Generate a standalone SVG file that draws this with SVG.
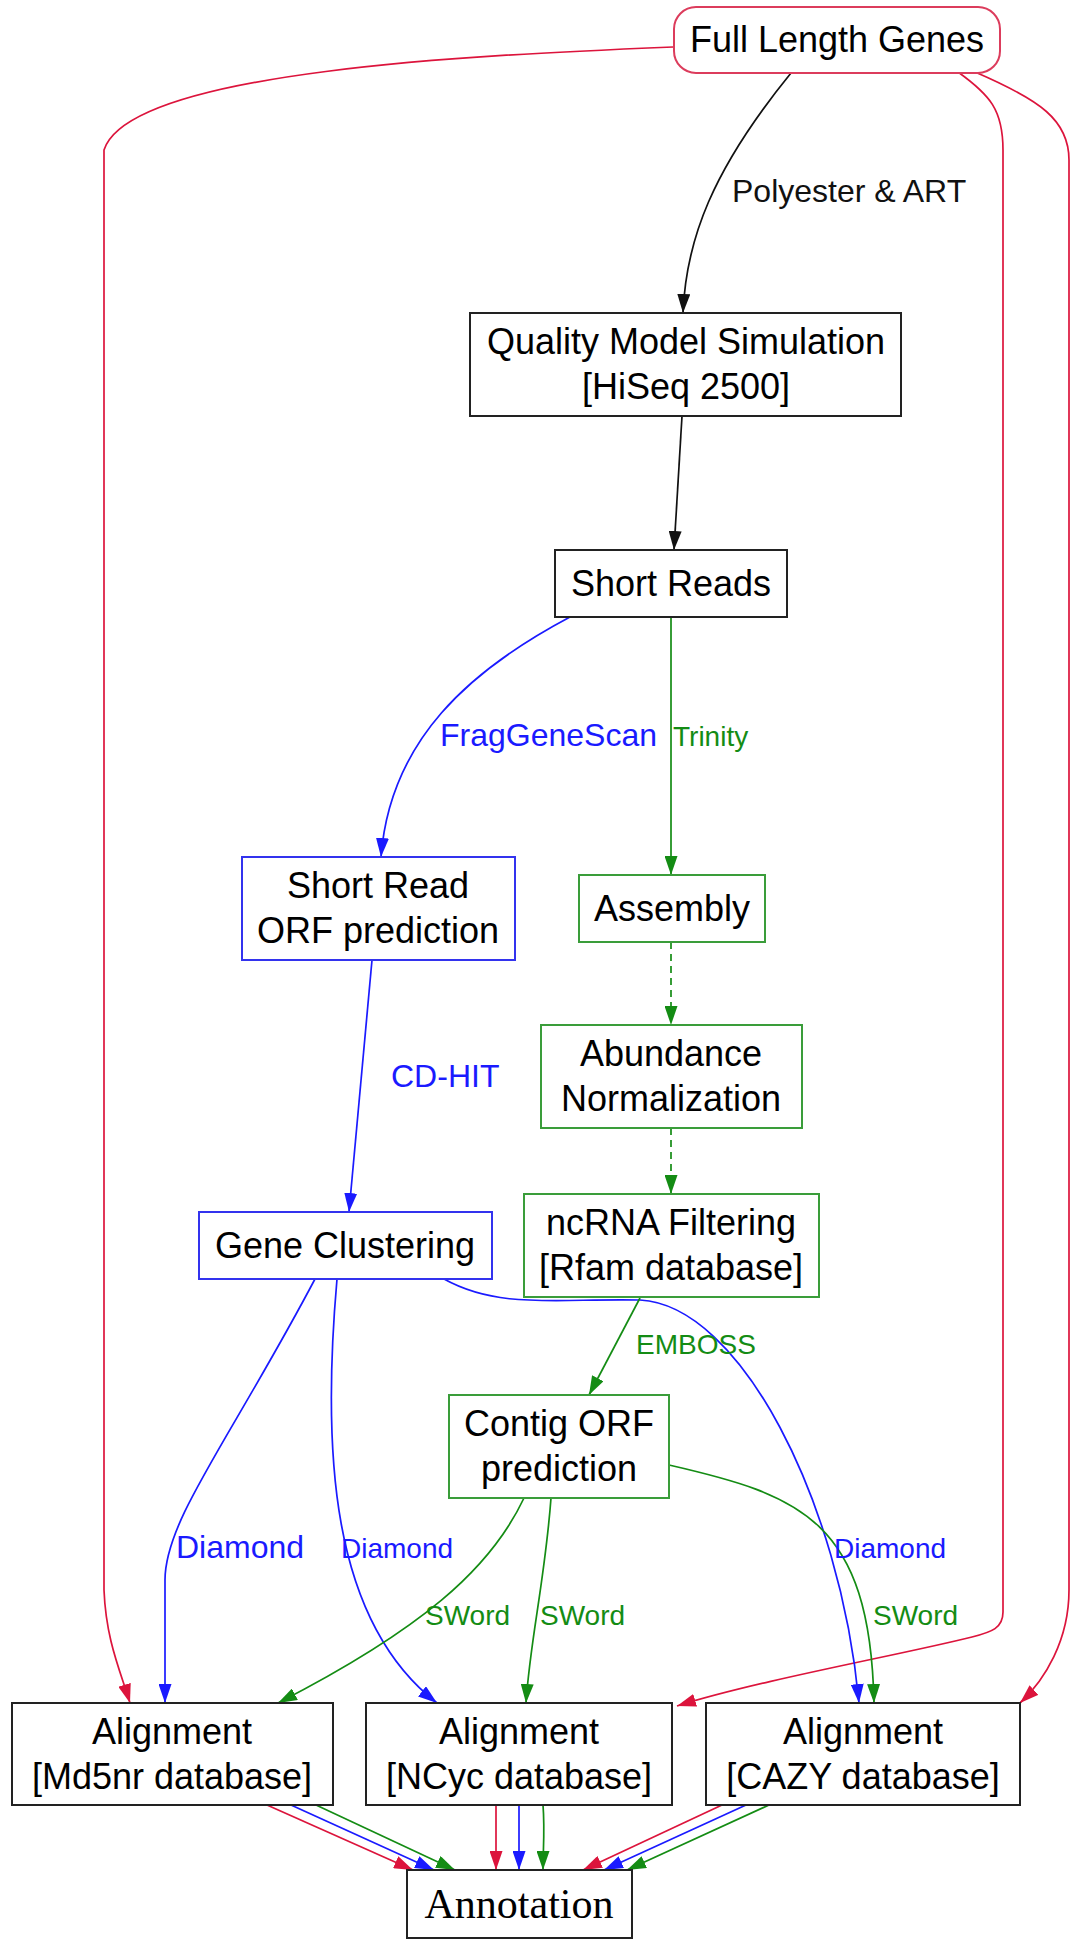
<svg xmlns="http://www.w3.org/2000/svg" width="1088" height="1955" viewBox="0 0 1088 1955">
<style>
  .n rect { fill: #ffffff; stroke-width: 2; }
  .k rect { stroke: #222222; }
  .r rect { stroke: #dc3c5c; }
  .b rect { stroke: #3333ee; }
  .g rect { stroke: #3a9d3a; }
  .t { font-family: "Liberation Sans", Arial, sans-serif; font-size: 36px; text-anchor: middle; fill: #000000; }
  .ann { font-family: "Liberation Serif", "Times New Roman", serif; font-size: 42px; text-anchor: middle; fill: #000000; }
  #edges path { fill: none; stroke-width: 1.7; }
  .ek { stroke: #111111; }
  .er { stroke: #dc143c; }
  .eb { stroke: #1a1aff; }
  .eg { stroke: #148c14; }
  .dash { stroke-dasharray: 7 5; }
  .lb { font-family: "Liberation Sans", Arial, sans-serif; font-size: 32px; }
  .ls { font-family: "Liberation Sans", Arial, sans-serif; font-size: 28px; }
  .lk { fill: #111111; }
  .lbl { fill: #1a1aff; }
  .lgr { fill: #148c14; }
</style>
<defs>
  <marker id="ak" viewBox="0 0 19 13" refX="19" refY="6.5" markerWidth="19" markerHeight="13" orient="auto" markerUnits="userSpaceOnUse"><path d="M0,0 L19,6.5 L0,13 z" fill="#111111"/></marker>
  <marker id="ar" viewBox="0 0 19 13" refX="19" refY="6.5" markerWidth="19" markerHeight="13" orient="auto" markerUnits="userSpaceOnUse"><path d="M0,0 L19,6.5 L0,13 z" fill="#dc143c"/></marker>
  <marker id="ab" viewBox="0 0 19 13" refX="19" refY="6.5" markerWidth="19" markerHeight="13" orient="auto" markerUnits="userSpaceOnUse"><path d="M0,0 L19,6.5 L0,13 z" fill="#1a1aff"/></marker>
  <marker id="ag" viewBox="0 0 19 13" refX="19" refY="6.5" markerWidth="19" markerHeight="13" orient="auto" markerUnits="userSpaceOnUse"><path d="M0,0 L19,6.5 L0,13 z" fill="#148c14"/></marker>
</defs>

<g id="edges">
  <!-- black -->
  <path class="ek" d="M791,73 C712,170 686,240 683,313" marker-end="url(#ak)"/>
  <path class="ek" d="M682,416 L674,550" marker-end="url(#ak)"/>
  <!-- red -->
  <path class="er" d="M673,47 C480,55 130,70 104,150 L104,1590 C106,1640 120,1670 130,1703" marker-end="url(#ar)"/>
  <path class="er" d="M958,72 C990,95 1003,110 1003,150 L1003,1612 C1003,1628 992,1632 972,1637 C900,1655 760,1680 677,1706" marker-end="url(#ar)"/>
  <path class="er" d="M975,72 C1040,100 1069,120 1069,160 L1069,1590 C1069,1640 1045,1680 1020,1703" marker-end="url(#ar)"/>
  <!-- blue -->
  <path class="eb" d="M570,617 C470,670 390,740 381,857" marker-end="url(#ab)"/>
  <path class="eb" d="M372,960 L349,1212" marker-end="url(#ab)"/>
  <path class="eb" d="M315,1279 C230,1440 165,1520 165,1580 L165,1703" marker-end="url(#ab)"/>
  <path class="eb" d="M337,1279 C322,1450 330,1620 437,1703" marker-end="url(#ab)"/>
  <path class="eb" d="M444,1279 C500,1310 560,1298 640,1300 C740,1305 840,1500 859,1703" marker-end="url(#ab)"/>
  <!-- green -->
  <path class="eg" d="M671,617 L671,875" marker-end="url(#ag)"/>
  <path class="eg dash" d="M671,942 L671,1025" marker-end="url(#ag)"/>
  <path class="eg dash" d="M671,1128 L671,1194" marker-end="url(#ag)"/>
  <path class="eg" d="M640,1298 L589,1395" marker-end="url(#ag)"/>
  <path class="eg" d="M524,1498 C490,1570 420,1630 278,1703" marker-end="url(#ag)"/>
  <path class="eg" d="M551,1498 C545,1580 530,1640 526,1703" marker-end="url(#ag)"/>
  <path class="eg" d="M669,1465 C800,1495 870,1520 874,1703" marker-end="url(#ag)"/>
  <!-- to Annotation -->
  <path class="er" d="M267,1805 L413,1870" marker-end="url(#ar)"/>
  <path class="eb" d="M291,1805 L434,1870" marker-end="url(#ab)"/>
  <path class="eg" d="M316,1805 L455,1870" marker-end="url(#ag)"/>
  <path class="er" d="M496,1805 L496,1870" marker-end="url(#ar)"/>
  <path class="eb" d="M519,1805 L519,1870" marker-end="url(#ab)"/>
  <path class="eg" d="M543,1805 C545,1830 543,1850 543,1870" marker-end="url(#ag)"/>
  <path class="er" d="M722,1805 L583,1870" marker-end="url(#ar)"/>
  <path class="eb" d="M746,1805 L604,1870" marker-end="url(#ab)"/>
  <path class="eg" d="M769,1805 L627,1870" marker-end="url(#ag)"/>
  <!-- labels -->
  <text class="lb lk" x="732" y="202">Polyester &amp; ART</text>
  <text class="lb lbl" x="440" y="746">FragGeneScan</text>
  <text class="ls lgr" x="673" y="746">Trinity</text>
  <text class="lb lbl" x="391" y="1087">CD-HIT</text>
  <text class="ls lgr" x="636" y="1354">EMBOSS</text>
  <text class="lb lbl" x="176" y="1558">Diamond</text>
  <text class="ls lbl" x="341" y="1558">Diamond</text>
  <text class="ls lbl" x="834" y="1558">Diamond</text>
  <text class="ls lgr" x="425" y="1625">SWord</text>
  <text class="ls lgr" x="540" y="1625">SWord</text>
  <text class="ls lgr" x="873" y="1625">SWord</text>
</g>

<g id="n-full-length-genes" class="n r">
  <rect x="674" y="7" width="326" height="66" rx="22" ry="22"/>
  <text class="t" x="837" y="52">Full Length Genes</text>
</g>
<g id="n-quality-model" class="n k">
  <rect x="470" y="313" width="431" height="103"/>
  <text class="t" x="686" y="354">Quality Model Simulation</text>
  <text class="t" x="686" y="399">[HiSeq 2500]</text>
</g>
<g id="n-short-reads" class="n k">
  <rect x="555" y="550" width="232" height="67"/>
  <text class="t" x="671" y="596">Short Reads</text>
</g>
<g id="n-short-read-orf" class="n b">
  <rect x="242" y="857" width="273" height="103"/>
  <text class="t" x="378" y="898">Short Read</text>
  <text class="t" x="378" y="943">ORF prediction</text>
</g>
<g id="n-assembly" class="n g">
  <rect x="579" y="875" width="186" height="67"/>
  <text class="t" x="672" y="921">Assembly</text>
</g>
<g id="n-abundance" class="n g">
  <rect x="541" y="1025" width="261" height="103"/>
  <text class="t" x="671" y="1066">Abundance</text>
  <text class="t" x="671" y="1111">Normalization</text>
</g>
<g id="n-ncrna" class="n g">
  <rect x="524" y="1194" width="295" height="103"/>
  <text class="t" x="671" y="1235">ncRNA Filtering</text>
  <text class="t" x="671" y="1280">[Rfam database]</text>
</g>
<g id="n-gene-clustering" class="n b">
  <rect x="199" y="1212" width="293" height="67"/>
  <text class="t" x="345" y="1258">Gene Clustering</text>
</g>
<g id="n-contig-orf" class="n g">
  <rect x="449" y="1395" width="220" height="103"/>
  <text class="t" x="559" y="1436">Contig ORF</text>
  <text class="t" x="559" y="1481">prediction</text>
</g>
<g id="n-align-md5nr" class="n k">
  <rect x="12" y="1703" width="321" height="102"/>
  <text class="t" x="172" y="1744">Alignment</text>
  <text class="t" x="172" y="1789">[Md5nr database]</text>
</g>
<g id="n-align-ncyc" class="n k">
  <rect x="366" y="1703" width="306" height="102"/>
  <text class="t" x="519" y="1744">Alignment</text>
  <text class="t" x="519" y="1789">[NCyc database]</text>
</g>
<g id="n-align-cazy" class="n k">
  <rect x="706" y="1703" width="314" height="102"/>
  <text class="t" x="863" y="1744">Alignment</text>
  <text class="t" x="863" y="1789">[CAZY database]</text>
</g>
<g id="n-annotation" class="n k">
  <rect x="407" y="1870" width="225" height="68"/>
  <text class="ann" x="519" y="1918">Annotation</text>
</g>
</svg>
